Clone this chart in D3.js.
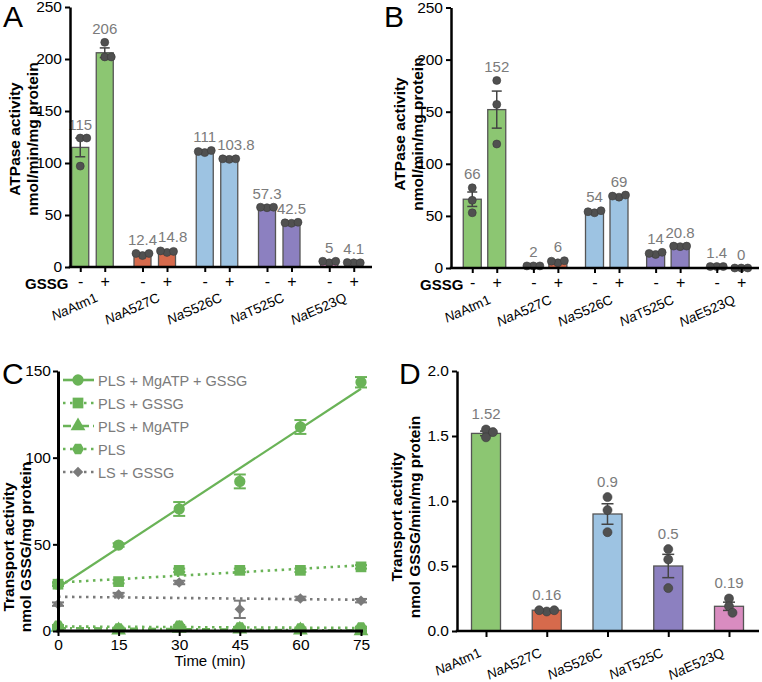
<!DOCTYPE html>
<html><head><meta charset="utf-8">
<script src="https://cdn.jsdelivr.net/npm/d3@7"></script>
<style>body{margin:0;background:#fff} svg text{font-family:"Liberation Sans",Arial,Helvetica,sans-serif}</style>
</head><body><svg id="chart" width="762" height="682"></svg>
<script>
// ---------------- DATA ----------------
const genotypes = ["NaAtm1","NaA527C","NaS526C","NaT525C","NaE523Q"];
const genoColors = ["#8cc672","#d66a4c","#9dc3e2","#8c80c0","#d98cc0"];
const gssgLevels = ["-","+"];
const yTicksAB = [0,50,100,150,200,250];

// Panel A
const aMeanMinus = [115,12.4,111,57.3,5];
const aMeanPlus  = [206,14.8,103.8,42.5,4.1];
const aPtsMinus = [[124,124,97],[11,13,13],[110,112,111],[57,57.5,57.5],[4,5.5,5.5]];
const aPtsPlus  = [[216,202,202],[14,15,15.5],[103.5,104,104],[42,43,42.5],[4,4,4.3]];

// Panel B
const bMeanMinus = [66,2,54,14,1.4];
const bMeanPlus  = [152,6,69,20.8,0];
const bPtsMinus = [[77,65,53],[2,2,2],[53,55,54],[13,15,14],[1.4,1.4,1.4]];
const bPtsPlus  = [[180,157,119],[5,7,6.5],[68,70,69],[20.5,21,21],[0,0,0]];

// Panel C
const timePoints = [0,15,30,45,60,75];
const cNames = ["PLS + MgATP + GSSG","PLS + GSSG","PLS + MgATP","PLS","LS + GSSG"];
const cValues = [
  [27,49.6,70.4,86.3,117.7,143.5],
  [27,28.5,35,35,35,37],
  [2,0.5,1.5,1,0.5,0],
  [3,1.5,3,2,1.5,2],
  [15.5,21,28,12.5,18.8,17.5]
];
const cErrors = [
  [1,1,4,4,4,3],
  [1,1,1,1,1,1],
  [0.5,0.5,0.5,0.5,0.5,0.5],
  [0.5,0.5,0.5,0.5,0.5,0.5],
  [1,1,1,5,1,1]
];
const cTicksX = [0,15,30,45,60,75];
const cTicksY = [0,50,100,150];

// Panel D
const dMeans = [1.52,0.16,0.9,0.5,0.19];
const dPts = [[1.55,1.49,1.53],[0.15,0.16,0.16],[1.03,0.93,0.76],[0.63,0.55,0.33],[0.25,0.19,0.14]];
const dTicks = [0,0.5,1,1.5,2];

// ---------------- STYLE ----------------
const FONT = '"Liberation Sans",Arial,Helvetica,sans-serif';
const labelGray = "#7b7b7b";
const ptFill = "#505050";
const svg = d3.select("#chart");

function sem(a){ return a.length>1 ? d3.deviation(a)/Math.sqrt(a.length) : 0; }

// simple beeswarm offsets
function swarm(ys, r){
  const placed = [];
  const minD = r*1.6;
  ys.forEach(y=>{
    let off = 0;
    for(let k=0;k<60;k++){
      const cand = k===0?0:(k%2? Math.ceil(k/2):-Math.ceil(k/2))*0.5;
      if(placed.every(p=>Math.hypot(p.dx-cand,p.y-y)>=minD)){ off=cand; break; }
    }
    placed.push({dx:off,y:y});
  });
  return placed.map(p=>p.dx);
}

function catLabel(g, x, y, name, size, angle){
  const t = g.append("text").attr("transform",`translate(${x},${y}) rotate(${angle})`)
    .attr("text-anchor","end").attr("font-size",size).attr("fill","#000");
  t.append("tspan").attr("font-style","italic").text(name.slice(0,2));
  t.append("tspan").text(name.slice(2));
}

function yLabel(g, x1, x2, cy, l1, l2){
  [[x1,l1],[x2,l2]].forEach(([x,l])=>{
    g.append("text").attr("transform",`translate(${x},${cy}) rotate(-90)`)
      .attr("text-anchor","middle").attr("font-size",15.5).attr("font-weight","bold").text(l);
  });
}

function styleAxis(sel, w){
  sel.select(".domain").attr("stroke","#000").attr("stroke-width",w);
  sel.selectAll(".tick line").attr("stroke","#000").attr("stroke-width",2);
  sel.selectAll(".tick text").attr("font-family",FONT).attr("fill","#000");
}

// Generic bar panel
function barPanel(opt){
  const g = svg.append("g");
  const y = d3.scaleLinear().domain(opt.yDomain).range([opt.y0, opt.y1]);
  const gx = d3.scalePoint().domain(genotypes).range(opt.groupRange);
  const items = [];
  opt.series.forEach((s,si)=>{
    genotypes.forEach((gn,gi)=>{
      const off = opt.series.length>1 ? (si===0?-opt.subOff:opt.subOff) : 0;
      items.push({key: opt.series.length>1? gn+"|"+s.key : gn, geno:gn, gi, mean:s.means[gi], pts:s.pts[gi], x: gx(gn)+off});
    });
  });
  const xs = d3.scaleOrdinal().domain(items.map(d=>d.key)).range(items.map(d=>d.x));
  // bars
  g.selectAll("rect.bar").data(items).join("rect").attr("class","bar")
    .attr("x",d=>d.x-opt.bw/2).attr("width",opt.bw)
    .attr("y",d=>y(d.mean)).attr("height",d=>y(0)-y(d.mean))
    .attr("fill",d=>genoColors[d.gi]).attr("stroke","#555").attr("stroke-width",1.3);
  // error bars
  items.forEach(d=>{
    const e = sem(d.pts);
    const top = y(d.mean+e), bot = y(Math.max(0,d.mean-e));
    d.errTop = top;
    if(e>0){
      g.append("line").attr("x1",d.x).attr("x2",d.x).attr("y1",top).attr("y2",bot).attr("stroke","#444").attr("stroke-width",1.5);
      [top,bot].forEach(yy=>g.append("line").attr("x1",d.x-opt.cap).attr("x2",d.x+opt.cap).attr("y1",yy).attr("y2",yy).attr("stroke","#444").attr("stroke-width",1.5));
    }
  });
  // points
  items.forEach(d=>{
    const ys = d.pts.map(v=>y(v));
    const offs = swarm(ys, opt.r);
    d.ptTop = d3.min(ys) - opt.r;
    ys.forEach((yy,i)=>g.append("circle").attr("cx",d.x+offs[i]).attr("cy",yy).attr("r",opt.r)
      .attr("fill",ptFill).attr("stroke","#3a3a3a").attr("stroke-width",0.6));
  });
  // value labels
  const labs = g.selectAll("text.val").data(items).join("text").attr("class","val")
    .attr("x",d=>d.x).attr("y",d=>Math.min(d.ptTop,d.errTop)-opt.labGap)
    .attr("text-anchor","middle").attr("font-size",opt.valSize).attr("fill",labelGray)
    .text(d=>opt.fmt(d.mean));
  // nudge labels right if they collide with the label to their left
  const nodes = labs.nodes().map((n,i)=>({n, d:items[i]})).sort((a,b)=>a.d.x-b.d.x);
  for(let i=1;i<nodes.length;i++){
    const a=nodes[i-1].n.getBBox(), b=nodes[i].n.getBBox();
    const vOver = Math.min(a.y+a.height,b.y+b.height)-Math.max(a.y,b.y);
    const hOver = a.x+a.width - b.x;
    if(vOver>3 && hOver>-1){ nodes[i].n.setAttribute("x", nodes[i].d.x + hOver + 1); }
  }
  // y axis
  const ya = g.append("g").attr("transform",`translate(${opt.ax},0)`)
    .call(d3.axisLeft(y).tickValues(opt.yTicks).tickSize(5).tickSizeOuter(0).tickPadding(3).tickFormat(opt.yFmt));
  styleAxis(ya, 2.5);
  ya.selectAll(".tick text").attr("font-size",15.5);
  // x axis
  const xa = g.append("g").attr("transform",`translate(0,${opt.y0})`)
    .call(d3.axisBottom(xs).tickSize(opt.series.length>1?5:6).tickPadding(4)
      .tickFormat(k=> opt.series.length>1 ? k.split("|")[1] : ""));
  styleAxis(xa, 0);
  xa.select(".domain").remove();
  xa.selectAll(".tick text").attr("font-size",16);
  g.append("line").attr("x1",opt.ax-1.25).attr("x2",opt.axEnd).attr("y1",opt.y0).attr("y2",opt.y0)
    .attr("stroke","#000").attr("stroke-width",2.5);
  // category labels
  genotypes.forEach(gn=>catLabel(g, gx(gn)+opt.catDx, opt.y0+opt.catDy, gn, 13.5, -24));
  return g;
}

// ---------- Panel A ----------
const gA = barPanel({yDomain:[0,250], y0:267, y1:7, groupRange:[92.5,341.5], subOff:12.25, bw:17, r:4, cap:5,
  series:[{key:"-",means:aMeanMinus,pts:aPtsMinus},{key:"+",means:aMeanPlus,pts:aPtsPlus}],
  ax:70, axEnd:372, yTicks:yTicksAB, yFmt:d3.format("d"), fmt:v=>String(v), labGap:4.5, valSize:15,
  catDx:6, catDy:34});
gA.append("text").attr("x",25).attr("y",289).attr("font-size",15).attr("font-weight","bold").text("GSSG");
yLabel(gA, 20, 38, 139, "ATPase activity", "nmol/min/mg protein");
gA.append("text").attr("x",3).attr("y",27).attr("font-size",30).text("A");

// ---------- Panel B ----------
const gB = barPanel({yDomain:[0,250], y0:268, y1:7.5, groupRange:[484.5,729], subOff:12.25, bw:18, r:4, cap:5,
  series:[{key:"-",means:bMeanMinus,pts:bPtsMinus},{key:"+",means:bMeanPlus,pts:bPtsPlus}],
  ax:451, axEnd:759, yTicks:yTicksAB, yFmt:d3.format("d"), fmt:v=>String(v), labGap:4.5, valSize:15,
  catDx:7, catDy:35});
gB.append("text").attr("x",420).attr("y",290).attr("font-size",15).attr("font-weight","bold").text("GSSG");
yLabel(gB, 405, 423, 134, "ATPase activity", "nmol/min/mg protein");
gB.append("text").attr("x",384).attr("y",27).attr("font-size",30).text("B");

// ---------- Panel D ----------
const gD = barPanel({yDomain:[0,2], y0:631, y1:371, groupRange:[486,729], subOff:0, bw:29, r:4.5, cap:6,
  series:[{key:"",means:dMeans,pts:dPts}],
  ax:457, axEnd:759, yTicks:dTicks, yFmt:d3.format(".1f"), fmt:v=>String(v), labGap:6, valSize:15,
  catDx:-4, catDy:25});
yLabel(gD, 402, 420, 517, "Transport activity", "nmol GSSG/min/mg protein");
gD.append("text").attr("x",399).attr("y",384).attr("font-size",30).text("D");

// ---------- Panel C ----------
(function(){
  const g = svg.append("g");
  const x = d3.scaleLinear().domain([0,75]).range([58,361]);
  const y = d3.scaleLinear().domain([0,150]).range([631,371]);
  const green = "#6ab357", gray = "#7a7a7a";
  const hexagon = {draw(ctx,size){const r=Math.sqrt(size/2.598);for(let i=0;i<6;i++){const a=Math.PI/3*i;const px=r*Math.cos(a),py=r*Math.sin(a);i?ctx.lineTo(px,py):ctx.moveTo(px,py);}ctx.closePath();}};
  const styles = [
    {color:green, dash:null, sym:d3.symbolCircle, size:100, rot:0},
    {color:green, dash:"2.5,4.5", sym:d3.symbolSquare, size:115, rot:0},
    {color:green, dash:"8,4,2,4", sym:d3.symbolTriangle, size:95, rot:0},
    {color:green, dash:"2.5,4.5", sym:hexagon, size:95, rot:0},
    {color:gray, dash:"2.5,4.5", sym:d3.symbolSquare, size:55, rot:45}
  ];
  const series = cNames.map((n,i)=>({name:n, vals:cValues[i], err:cErrors[i], st:styles[i]}));
  // regression lines
  series.forEach(s=>{
    const mx=d3.mean(timePoints), my=d3.mean(s.vals);
    const sxy=d3.sum(timePoints.map((t,i)=>(t-mx)*(s.vals[i]-my)));
    const sxx=d3.sum(timePoints.map(t=>(t-mx)*(t-mx)));
    s.slope=sxy/sxx; s.icpt=my-s.slope*mx;
  });
  const order = [4,3,2,1,0];
  order.forEach(i=>{
    const s=series[i];
    const line=d3.line().x(t=>x(t)).y(t=>y(s.icpt+s.slope*t));
    g.append("path").attr("d",line([0,75])).attr("fill","none").attr("stroke",s.st.color)
      .attr("stroke-width",s.st.dash?2.6:2.2).attr("stroke-dasharray",s.st.dash);
  });
  order.forEach(i=>{
    const s=series[i];
    timePoints.forEach((t,j)=>{
      const e=s.err[j];
      const yt=y(s.vals[j]+e), yb=y(s.vals[j]-e);
      g.append("line").attr("x1",x(t)).attr("x2",x(t)).attr("y1",yt).attr("y2",yb).attr("stroke",s.st.color).attr("stroke-width",2);
      [yt,yb].forEach(yy=>g.append("line").attr("x1",x(t)-6).attr("x2",x(t)+6).attr("y1",yy).attr("y2",yy).attr("stroke",s.st.color).attr("stroke-width",2));
    });
    g.selectAll(null).data(timePoints).join("path")
      .attr("transform",(t,j)=>`translate(${x(t)},${y(s.vals[j])}) rotate(${s.st.rot})`)
      .attr("d",d3.symbol().type(s.st.sym).size(s.st.size)()).attr("fill",s.st.color);
  });
  // axes
  const ya=g.append("g").attr("transform","translate(58,0)")
    .call(d3.axisLeft(y).tickValues(cTicksY).tickSize(5).tickSizeOuter(0).tickPadding(2));
  styleAxis(ya,3); ya.selectAll(".tick text").attr("font-size",15.5);
  const xa=g.append("g").attr("transform","translate(0,631)")
    .call(d3.axisBottom(x).tickValues(cTicksX).tickSize(5).tickSizeOuter(0).tickPadding(3));
  styleAxis(xa,0); xa.select(".domain").remove(); xa.selectAll(".tick text").attr("font-size",15.5);
  g.append("line").attr("x1",56.5).attr("x2",363).attr("y1",631).attr("y2",631).attr("stroke","#000").attr("stroke-width",3);
  g.append("text").attr("x",210).attr("y",666).attr("text-anchor","middle").attr("font-size",15).text("Time (min)");
  // legend
  series.forEach((s,i)=>{
    const ly=380+i*23;
    g.append("line").attr("x1",63).attr("x2",94).attr("y1",ly).attr("y2",ly).attr("stroke",s.st.color)
      .attr("stroke-width",2.6).attr("stroke-dasharray",s.st.dash);
    g.append("path").attr("transform",`translate(78,${ly}) rotate(${s.st.rot})`)
      .attr("d",d3.symbol().type(s.st.sym).size(s.st.size)()).attr("fill",s.st.color);
    g.append("text").attr("x",98).attr("y",ly+5.5).attr("font-size",14.5).attr("fill",labelGray).text(s.name);
  });
  yLabel(g, 14, 31, 547, "Transport activity", "nmol GSSG/mg protein");
  g.append("text").attr("x",2).attr("y",384).attr("font-size",30).text("C");
})();
</script></body></html>
